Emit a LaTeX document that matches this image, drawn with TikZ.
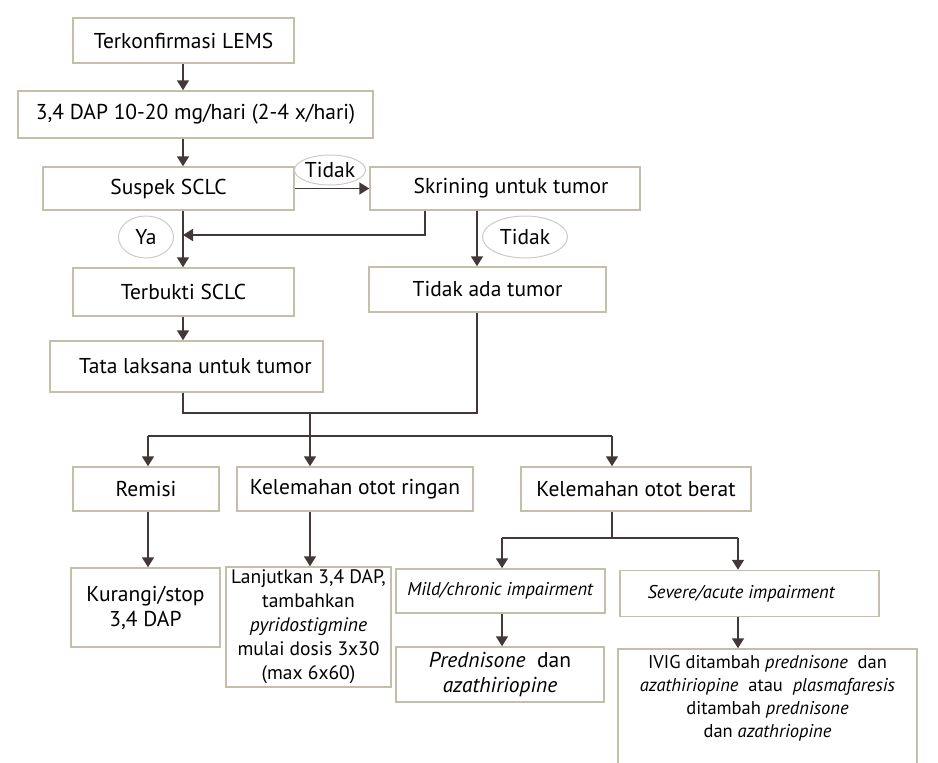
\documentclass[tikz,border=0pt]{standalone}
\usepackage{fontspec}
\setmainfont{PT Sans}
\usetikzlibrary{positioning,arrows.meta,shapes.geometric,calc}
\definecolor{boxline}{RGB}{196,190,172}
\definecolor{flowline}{RGB}{66,56,56}
\definecolor{tagline}{RGB}{205,203,195}

\begin{document}
\begin{tikzpicture}[x=1pt, y=-1pt, font=\fontsize{21.5}{25}\selectfont,
  box/.style={draw=boxline, line width=1.5pt, fill=white, inner sep=0pt, align=center},
  tag/.style={ellipse, draw=tagline, line width=1pt, fill=white, inner sep=0pt},
  flow/.style={draw=flowline, line width=1.8pt, -{Triangle[length=10pt,width=12pt]}},
  link/.style={draw=flowline, line width=1.8pt},
  small/.style={font=\fontsize{19.5}{24}\selectfont},
  ital/.style={font=\fontsize{18.5}{23}\selectfont}]
\clip (0,0) rectangle (938,763);

% Column and row guides for the connectors
\coordinate (colA) at (183,0);
\coordinate (colS) at (425,0);
\coordinate (colT) at (477,0);
\coordinate (colR) at (148,0);
\coordinate (colK) at (310,0);
\coordinate (colB) at (612,0);
\coordinate (colM) at (502,0);
\coordinate (colV) at (738,0);
\coordinate (rowY) at (0,235);
\coordinate (rowJ) at (0,413);
\coordinate (rowH) at (0,436);
\coordinate (rowB) at (0,538);

% Upper part: diagnosis and tumour search
\node[box, minimum width=221pt, minimum height=45pt] (lems) at (183.5,40.5) {Terkonfirmasi LEMS};
\node[box, minimum width=355pt, minimum height=47pt] (dap) at (195.5,114.5) {3,4 DAP 10-20 mg/hari (2-4 x/hari)};
\node[box, minimum width=251pt, minimum height=43pt] (suspek) at (168.5,188.5) {Suspek SCLC};
\node[box, minimum width=270pt, minimum height=43pt] (skrining) at (505,188.5) {\hspace{12pt}Skrining untuk tumor};
\node[box, minimum width=221pt, minimum height=48pt] (terbukti) at (183.5,292) {Terbukti SCLC};
\node[box, minimum width=273pt, minimum height=51pt] (tatalaksana) at (186.5,366.5) {\hspace{18pt}Tata laksana untuk tumor};
\node[box, minimum width=237pt, minimum height=45pt] (tidakada) at (487.5,289.5) {Tidak ada tumor};

% Answer tags
\node[tag, minimum width=70pt, minimum height=30pt] (tidakA) at (330,170) {Tidak};
\node[tag, minimum width=55pt, minimum height=42pt] (ya) at (146,237) {Ya};
\node[tag, minimum width=85pt, minimum height=42pt] (tidakB) at (525,237) {Tidak};

% Lower part: by muscle weakness
\node[box, minimum width=146pt, minimum height=44pt] (remisi) at (146,489) {Remisi};
\node[box, minimum width=236pt, minimum height=44pt] (ringan) at (355,489) {Kelemahan otot ringan};
\node[box, minimum width=230pt, minimum height=44pt] (berat) at (636,489) {Kelemahan otot berat};
\node[box, minimum width=149pt, minimum height=79pt] (kurangi) at (145.5,607.5) {Kurangi/stop\\3,4 DAP};
\node[box, small, minimum width=165pt, minimum height=120pt] (lanjut) at (308.5,627)
  {Lanjutkan 3,4 DAP,\\tambahkan\\\textit{pyridostigmine}\\mulai dosis 3x30\\(max 6x60)};
\node[box, ital, minimum width=209pt, minimum height=44pt] (mild) at (500.5,591) {\textit{Mild/chronic impairment}};
\node[box, ital, minimum width=259pt, minimum height=46pt] (severe) at (749.5,593.5) {\textit{Severe/acute impairment}\hspace{16pt}};
\node[box, minimum width=208pt, minimum height=55pt] (pred) at (500,674.5) {\textit{Prednisone}\ \ dan\\\textit{azathiriopine}};
\node[box, ital, minimum width=299pt, minimum height=126pt] (ivig) at (767.5,712)
  {IVIG ditambah \textit{prednisone}\ \ dan\\\textit{azathiriopine}\ \ atau\ \ \textit{plasmafaresis}\\ditambah \textit{prednisone}\\dan \textit{azathriopine}\\[8pt]};

% Connectors, upper part
\draw[flow] (lems.south -| colA) -- (dap.north -| colA);
\draw[flow] (dap.south -| colA) -- (suspek.north -| colA);
\draw[flow] (suspek.east) -- (skrining.west);
\draw[flow] (suspek.south -| colA) -- (terbukti.north -| colA);
\draw[flow] (skrining.south -| colS) |- (rowY -| colA);
\draw[flow] (skrining.south -| colT) -- (tidakada.north -| colT);
\draw[flow] (terbukti.south -| colA) -- (tatalaksana.north -| colA);

% Joining both branches
\draw[link] (tatalaksana.south -| colA) |- (rowJ -| colT) -- (tidakada.south -| colT);
\draw[flow] (rowJ -| colK) -- (ringan.north -| colK);
\draw[link] (rowH -| colR) -- (rowH -| colB);
\foreach \c/\n in {colR/remisi, colB/berat}
  \draw[flow] (rowH -| \c) -- (\n.north -| \c);

% Connectors, lower part
\draw[flow] (remisi.south -| colR) -- (kurangi.north -| colR);
\draw[flow] (ringan.south -| colK) -- (lanjut.north -| colK);
\draw[link] (berat.south -| colB) -- (rowB -| colB);
\draw[link] (rowB -| colM) -- (rowB -| colV);
\foreach \c/\n in {colM/mild, colV/severe}
  \draw[flow] (rowB -| \c) -- (\n.north -| \c);
\draw[flow] (mild.south -| colM) -- (pred.north -| colM);
\draw[flow] (severe.south -| colV) -- (ivig.north -| colV);
\end{tikzpicture}
\end{document}
